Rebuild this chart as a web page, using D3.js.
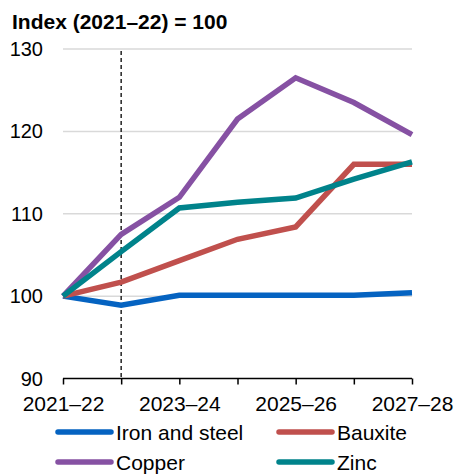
<!DOCTYPE html>
<html><head><meta charset="utf-8">
<script src="https://cdn.jsdelivr.net/npm/d3@7"></script>
<style>body{margin:0;background:#fff}svg{display:block;font-family:"Liberation Sans",Arial,sans-serif}</style>
</head><body><svg id="c" width="457" height="475"></svg>
<script>
const categories = ["2021–22","2022–23","2023–24","2024–25","2025–26","2026–27","2027–28"];
const tickLabels = ["2021–22","2023–24","2025–26","2027–28"];
const yTicks = [90,100,110,120,130];
const ironSteel = [100, 98.9, 100.1, 100.1, 100.1, 100.1, 100.4];
const bauxite = [100, 101.7, 104.3, 106.9, 108.4, 116.0, 116.0];
const copper = [100, 107.5, 112.0, 121.5, 126.5, 123.5, 119.6];
const zinc = [100, 105.4, 110.7, 111.4, 111.9, 114.2, 116.3];
const seriesNames = ["Iron and steel","Bauxite","Copper","Zinc"];
const seriesColors = ["#0563C1","#C0504D","#8651A3","#00838B"];
const dividerCategory = "2022–23";

const series = [ironSteel,bauxite,copper,zinc].map((v,i)=>({name:seriesNames[i],color:seriesColors[i],values:v}));
const svg = d3.select("#c");
const x = d3.scalePoint().domain(categories).range([63,412]);
const y = d3.scaleLinear().domain([90,130]).range([378.5,49]);

svg.append("text").attr("x",12).attr("y",29).attr("font-size",21).attr("font-weight","bold")
  .text("Index (2021–22) = 100");

// gridlines
svg.append("g").selectAll("line").data(yTicks.filter(d=>d>90)).join("line")
  .attr("x1",63).attr("x2",412).attr("y1",d=>y(d)).attr("y2",d=>y(d))
  .attr("stroke","#d9d9d9").attr("stroke-width",1.5);
// y labels
svg.append("g").selectAll("text").data(yTicks).join("text")
  .attr("x",43).attr("y",d=>y(d)+7).attr("text-anchor","end").attr("font-size",20).text(d=>d);

// dashed divider
svg.append("line").attr("x1",x(dividerCategory)).attr("x2",x(dividerCategory))
  .attr("y1",y(130)+2).attr("y2",y(90)).attr("stroke","#222").attr("stroke-width",1.5)
  .attr("stroke-dasharray","4,3");

// x axis
const xa = d3.axisBottom(x).tickSize(6).tickFormat(d=>tickLabels.includes(d)?d:"");
const gx = svg.append("g").attr("transform",`translate(0,${y(90)})`).call(xa);
gx.select(".domain").attr("stroke","#000").attr("stroke-width",1.5).attr("d",`M${x.range()[0]},0H${x.range()[1]}`);
gx.selectAll(".tick line").attr("stroke","#000").attr("stroke-width",1.5);
gx.selectAll(".tick text").attr("font-size",21).attr("font-family","Liberation Sans, Arial, sans-serif").attr("fill","#000").attr("y",0).attr("dy",32);

// lines
const line = d3.line().x((d,i)=>x(categories[i])).y(d=>y(d));
svg.append("g").selectAll("path").data(series).join("path")
  .attr("d",d=>line(d.values)).attr("fill","none").attr("stroke",d=>d.color)
  .attr("stroke-width",5.5).attr("stroke-linejoin","miter");

// legend
const legPos = [[58,432],[279,432],[58,462],[279,462]];
const lg = svg.append("g").selectAll("g").data(series).join("g")
  .attr("transform",(d,i)=>`translate(${legPos[i][0]},${legPos[i][1]})`);
lg.append("line").attr("x1",0).attr("x2",53).attr("stroke",d=>d.color).attr("stroke-width",5.5).attr("stroke-linecap","round");
lg.append("text").attr("x",58).attr("y",8).attr("font-size",21).text(d=>d.name);
</script></body></html>
